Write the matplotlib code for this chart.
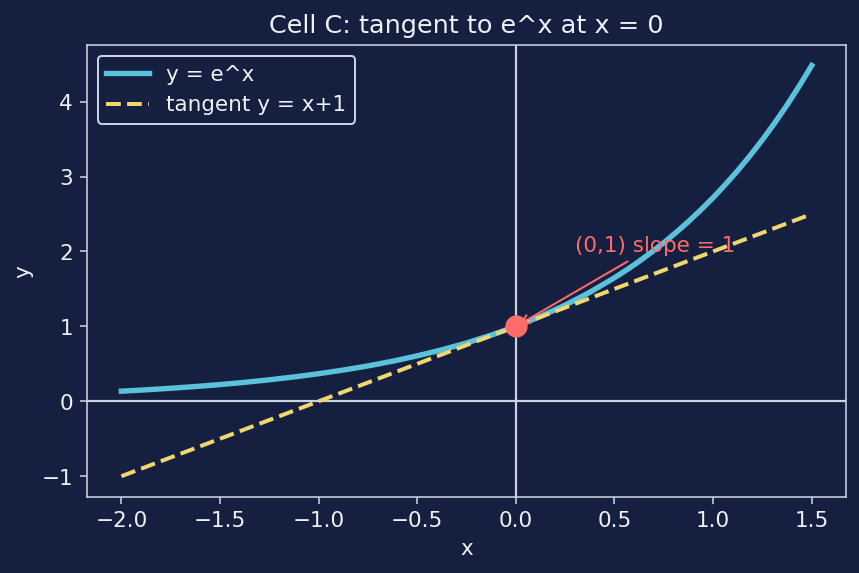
import matplotlib
matplotlib.use("Agg")
import matplotlib.pyplot as plt

# curve y = e^x
curve_x = [-2.0, -1.875, -1.75, -1.625, -1.5, -1.375, -1.25, -1.125, -1.0,
           -0.875, -0.75, -0.625, -0.5, -0.375, -0.25, -0.125, 0.0,
           0.125, 0.25, 0.375, 0.5, 0.5625, 0.625, 0.6875, 0.75, 0.8125,
           0.875, 0.9375, 1.0, 1.0625, 1.125, 1.1875, 1.25, 1.3125,
           1.375, 1.4375, 1.5]
curve_y = [0.135, 0.153, 0.174, 0.197, 0.223, 0.253, 0.287, 0.325, 0.368,
           0.417, 0.472, 0.535, 0.607, 0.687, 0.779, 0.883, 1.0,
           1.133, 1.284, 1.455, 1.649, 1.755, 1.868, 1.989, 2.117, 2.254,
           2.399, 2.554, 2.718, 2.894, 3.080, 3.279, 3.490, 3.716,
           3.955, 4.211, 4.482]

# tangent line y = x + 1
tan_x = [-2.0, 1.5]
tan_y = [-1.0, 2.5]

point = (0.0, 1.0)
note_pos = (0.3, 2.0)

bg = "#152040"
fg = "#eef1f7"
edge = "#c9d1e2"
fs = 10.8

fig, ax = plt.subplots(figsize=(6, 4), dpi=143.33)
fig.patch.set_facecolor(bg)
ax.set_facecolor(bg)

ax.axhline(0, color=edge, lw=1.1, zorder=1)
ax.axvline(0, color=edge, lw=1.1, zorder=1)

ax.plot(curve_x, curve_y, color="#5bc2dc", lw=2.7, label="y = e^x")
ax.plot(tan_x, tan_y, color="#f3d76e", lw=2.0, ls="--", label="tangent y = x+1")
ax.scatter([point[0]], [point[1]], s=125, color="#ff6b6b", zorder=4,
           linewidths=0)
ax.annotate("(0,1) slope = 1", xy=point, xytext=note_pos,
            color="#ff6b6b", fontsize=fs,
            arrowprops=dict(arrowstyle="->", color="#ff6b6b", lw=1))

ax.set_title("Cell C: tangent to e^x at x = 0", color=fg, fontsize=12.8)
ax.set_xlabel("x", color=fg, fontsize=fs)
ax.set_ylabel("y", color=fg, fontsize=fs)
ax.tick_params(colors=edge, labelcolor=fg, labelsize=fs)
for s in ax.spines.values():
    s.set_color(edge)

leg = ax.legend(loc="upper left", facecolor=bg, edgecolor=edge, framealpha=1,
                fontsize=fs)
for t in leg.get_texts():
    t.set_color(fg)

fig.subplots_adjust(left=0.101, right=0.984, top=0.921, bottom=0.133)
fig.savefig("out.png", facecolor=bg)
